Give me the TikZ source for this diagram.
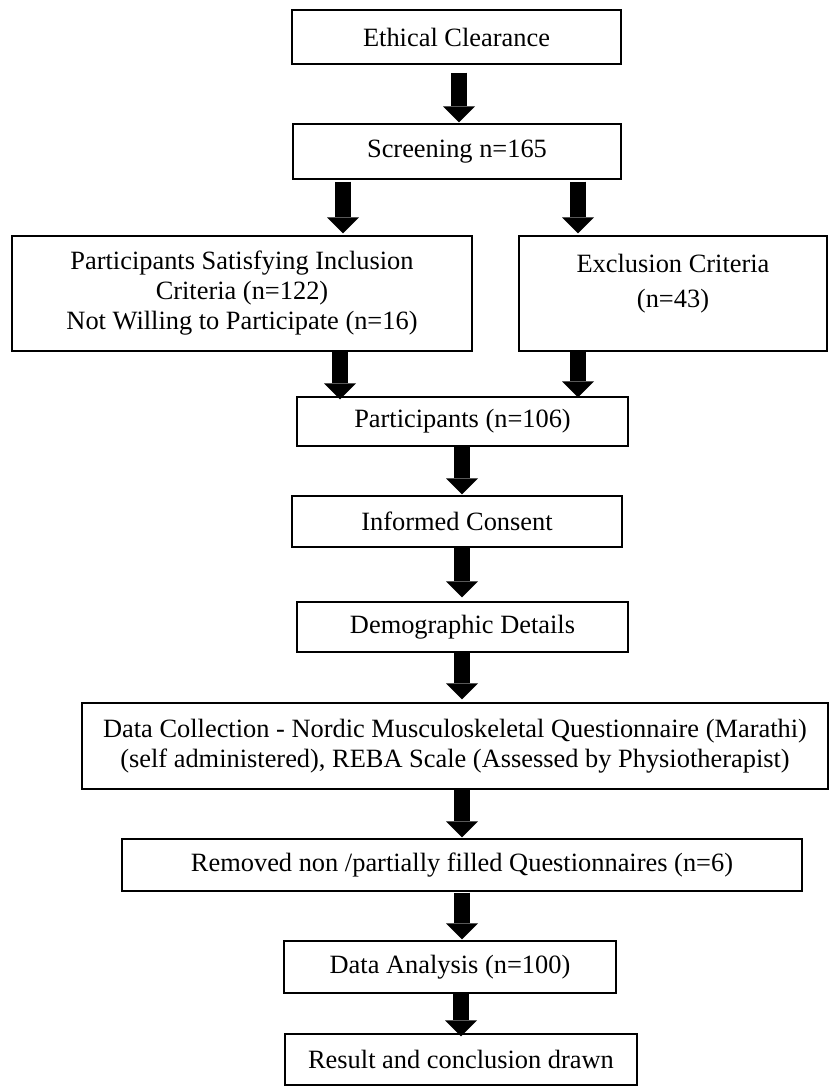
\documentclass[tikz,border=0pt]{standalone}
\usepackage{fontspec}
\setmainfont{Liberation Serif}
\usetikzlibrary{arrows.meta,calc}
\begin{document}
\begin{tikzpicture}[x=1pt,y=-1pt,
  box/.style={draw=black, line width=1.3pt, inner sep=0pt, align=center,
    font=\fontsize{26.4}{30}\selectfont},
  blk/.style={line width=16pt, -{Triangle[width=32pt,length=16pt,line width=0pt]}}]
\useasboundingbox (0,0) rectangle (829,1086);
% boxes
\node[box, minimum width=329, minimum height=54] (e1) at (456.5,37) {Ethical Clearance};
\node[box, minimum width=328, minimum height=55] (s1) at (457,151.5) {Screening n=165};
\node[box, minimum width=460, minimum height=115] (inc) at (242,293.5)
  {Participants Satisfying Inclusion\\Criteria (n=122)\\Not Willing to Participate (n=16)};
\node[box, minimum width=308, minimum height=115] (exc) at (673,293.5)
  {Exclusion Criteria\\[5pt](n=43)\\[-13pt]\strut};
\node[box, minimum width=331, minimum height=49] (part) at (462.5,421.5) {Participants (n=106)};
\node[box, minimum width=330, minimum height=51] (ic) at (457,521.5) {Informed Consent};
\node[box, minimum width=331, minimum height=50] (demo) at (462.5,627) {Demographic Details};
\node[box, minimum width=746, minimum height=86] (data) at (455,746)
  {Data Collection - Nordic Musculoskeletal Questionnaire (Marathi)\\(self administered), REBA Scale (Assessed by Physiotherapist)};
\node[box, minimum width=680, minimum height=52] (rem) at (462,865)
  {Removed non /partially filled Questionnaires (n=6)};
\node[box, minimum width=332, minimum height=52] (ana) at (450,967) {Data Analysis (n=100)};
\node[box, minimum width=352, minimum height=51] (res) at (461,1059.5) {Result and conclusion drawn};
% arrow x positions
\coordinate (xa) at (459,0);
\coordinate (xb) at (343,0);
\coordinate (xc) at (578,0);
\coordinate (xd) at (340,0);
\coordinate (xm) at (462,0);
\coordinate (xn) at (461,0);
% arrows
\draw[blk] ($(e1.south -| xa)+(0,8)$) -- ($(s1.north -| xa)+(0,-1)$);
\draw[blk] ($(s1.south -| xb)+(0,2)$) -- ($(inc.north -| xb)+(0,-2)$);
\draw[blk] ($(s1.south -| xc)+(0,2)$) -- ($(exc.north -| xc)+(0,-2)$);
\draw[blk] (inc.south -| xd) -- ($(part.north -| xd)+(0,3)$);
\draw[blk] (exc.south -| xc) -- ($(part.north -| xc)+(0,1)$);
\draw[blk] (part.south -| xm) -- ($(ic.north -| xm)+(0,-1)$);
\draw[blk] (ic.south -| xm) -- ($(demo.north -| xm)+(0,-4)$);
\draw[blk] (demo.south -| xm) -- ($(data.north -| xm)+(0,-3)$);
\draw[blk] (data.south -| xm) -- ($(rem.north -| xm)+(0,-1)$);
\draw[blk] ($(rem.south -| xm)+(0,1)$) -- ($(ana.north -| xm)+(0,-1)$);
\draw[blk] (ana.south -| xn) -- ($(res.north -| xn)+(0,3)$);
\end{tikzpicture}
\end{document}
